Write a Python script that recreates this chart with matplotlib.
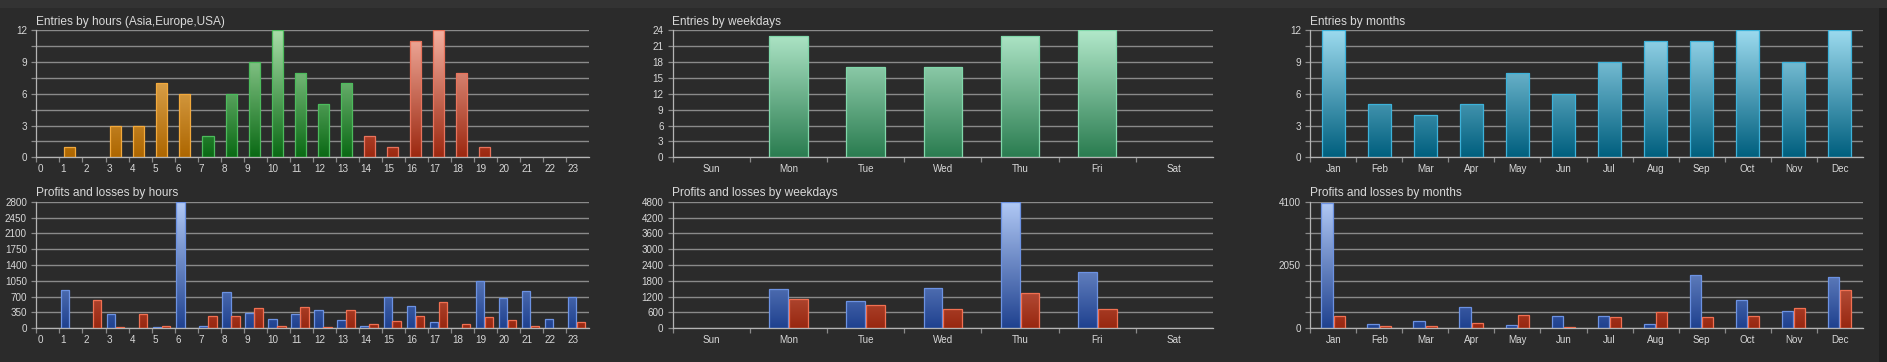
import matplotlib
matplotlib.use('Agg')
import matplotlib.pyplot as plt
import numpy as np
from matplotlib.patches import Rectangle
from matplotlib.colors import LinearSegmentedColormap
import matplotlib.transforms as mtrans

plt.rcParams['font.family'] = ['Liberation Sans', 'DejaVu Sans']

# ---------------- data ----------------
hours = [str(h) for h in range(24)]
hour_entries = [0, 1, 0, 3, 3, 7, 6, 2, 6, 9, 12, 8, 5, 7, 2, 1, 11, 12, 8, 1, 0, 0, 0, 0]
hour_session = ['asia'] * 7 + ['europe'] * 7 + ['usa'] * 10
hour_profits = [0, 840, 0, 309, 0, 22, 2800, 44, 796, 332, 199, 309, 398, 177, 52, 685, 486, 133, 0, 1046, 663, 825, 199, 685]
hour_losses = [0, 0, 626, 37, 309, 44, 0, 273, 265, 449, 52, 464, 22, 398, 88, 155, 280, 575, 103, 258, 177, 52, 0, 147]

weekdays = ['Sun', 'Mon', 'Tue', 'Wed', 'Thu', 'Fri', 'Sat']
weekday_entries = [0, 23, 17, 17, 23, 24, 0]
weekday_profits = [0, 1503, 1023, 1516, 4790, 2122, 0]
weekday_losses = [0, 1099, 871, 720, 1326, 720, 0]

months = ['Jan', 'Feb', 'Mar', 'Apr', 'May', 'Jun', 'Jul', 'Aug', 'Sep', 'Oct', 'Nov', 'Dec']
month_entries = [12, 5, 4, 5, 8, 6, 9, 11, 11, 12, 9, 12]
month_profits = [4070, 151, 227, 680, 108, 399, 388, 130, 1716, 906, 550, 1651]
month_losses = [399, 86, 76, 173, 421, 43, 367, 529, 378, 388, 669, 1241]

hour_entry_max = 12
hour_entry_ylabels = ['0', '', '3', '', '6', '', '9', '', '12']
hour_pl_max = 2800
hour_pl_ylabels = ['0', '350', '700', '1050', '1400', '1750', '2100', '2450', '2800']
weekday_entry_max = 24
weekday_entry_ylabels = ['0', '3', '6', '9', '12', '15', '18', '21', '24']
weekday_pl_max = 4800
weekday_pl_ylabels = ['0', '600', '1200', '1800', '2400', '3000', '3600', '4200', '4800']
month_entry_max = 12
month_entry_ylabels = ['0', '', '3', '', '6', '', '9', '', '12']
month_pl_max = 4100
month_pl_ylabels = ['0', '', '', '', '2050', '', '', '', '4100']

titles = ['Entries by hours (Asia,Europe,USA)', 'Entries by weekdays', 'Entries by months',
          'Profits and losses by hours', 'Profits and losses by weekdays', 'Profits and losses by months']

# ---------------- styles ----------------
BG = '#2b2b2b'
GRID = '#8a8a8a'
SPINE = '#b4b4b4'
TXT = '#d8d8d8'
TITLE = '#dadada'
TICKSIZE = 7.1

palette = {
    'asia':   ('#ad6600', '#f7c77a', '#f2a93c'),
    'europe': ('#0a6914', '#a8dea8', '#4cbb5c'),
    'usa':    ('#9c2810', '#f4b0a0', '#e8735c'),
    'mint':   ('#2a7c50', '#b2e8ca', '#80d8aa'),
    'cyan':   ('#005f7e', '#9cdaee', '#3cb2da'),
    'blue':   ('#1f418f', '#b2caf6', '#6c92e2'),
    'red':    ('#982710', '#f2a492', '#f07052'),
}

W, H = 1887, 362
fig = plt.figure(figsize=(W / 100, H / 100), dpi=100, facecolor=BG)
fig.patches.append(Rectangle((0, 1 - 7.5 / H), 1, 7.5 / H, transform=fig.transFigure,
                             facecolor='#333333', edgecolor='none', zorder=0))
fig.patches.append(Rectangle((1879 / W, 0), 1, 1 - 7.5 / H, transform=fig.transFigure,
                             facecolor='#202020', edgecolor='none', zorder=0))

cols = [(36.4, 589.2), (673.0, 1212.7), (1310.4, 1862.6)]
rows = [(30.3, 157.3), (201.7, 328.3)]


def make_ax(r, c):
    (l, rr), (t, b) = cols[c], rows[r]
    ax = fig.add_axes([l / W, 1 - b / H, (rr - l) / W, (b - t) / H])
    ax.set_facecolor('none')
    for s in ['top', 'right']:
        ax.spines[s].set_visible(False)
    for s in ['left', 'bottom']:
        ax.spines[s].set_color(SPINE)
        ax.spines[s].set_linewidth(0.9)
    ax.tick_params(axis='both', which='major', direction='out', length=3.6, width=0.9,
                   color=GRID, labelcolor=TXT, labelsize=TICKSIZE)
    ax.tick_params(axis='y', pad=3.2)
    ax.tick_params(axis='x', pad=1.4)
    ax.yaxis.grid(True, color=GRID, linewidth=1.0)
    ax.set_axisbelow(True)
    return ax


def grad_bar(ax, x0, width, value, ymax, key):
    if value <= 0:
        return
    lo, hi, edge = palette[key]
    cmap = LinearSegmentedColormap.from_list('g' + key, [lo, hi])
    rect = Rectangle((x0, 0), width, value, facecolor='none', edgecolor=edge,
                     linewidth=0.9, zorder=3)
    ax.add_patch(rect)
    grad = np.linspace(0, 1, 256).reshape(-1, 1)
    im = ax.imshow(grad, extent=(x0, x0 + width, 0, ymax), origin='lower', cmap=cmap,
                   aspect='auto', interpolation='bilinear', zorder=2)
    im.set_clip_path(rect)


def finish(ax, n, ymax, ylabels, title, centered, catlabels):
    ax.set_xlim(0, n)
    ax.set_ylim(0, ymax)
    ax.set_yticks(np.linspace(0, ymax, 9))
    ax.set_yticklabels(ylabels)
    ax.set_xticks(np.arange(n))
    if centered:
        ax.set_xticklabels([''] * n)
        ax.set_xticks(np.arange(n) + 0.5, minor=True)
        ax.set_xticklabels(catlabels, minor=True)
        ax.tick_params(axis='x', which='minor', length=0, labelcolor=TXT, labelsize=TICKSIZE, pad=5.0)
    else:
        ax.set_xticklabels(catlabels, ha='left')
        off = mtrans.ScaledTranslation(1.0 / 100, 0, fig.dpi_scale_trans)
        for lab in ax.get_xticklabels():
            lab.set_transform(lab.get_transform() + off)
    ax.text(0, 1, title, transform=ax.transAxes + mtrans.ScaledTranslation(-0.6 / 100, 5.5 / 100, fig.dpi_scale_trans),
            ha='left', va='baseline', color=TITLE, fontsize=8.6)


# ---- Entries by hours
ax = make_ax(0, 0)
for i, v in enumerate(hour_entries):
    grad_bar(ax, i + 0.45 - 0.24, 0.48, v, hour_entry_max, hour_session[i])
finish(ax, 24, hour_entry_max, hour_entry_ylabels, titles[0], False, hours)

# ---- Entries by weekdays
ax = make_ax(0, 1)
for i, v in enumerate(weekday_entries):
    grad_bar(ax, i + 0.25, 0.5, v, weekday_entry_max, 'mint')
finish(ax, 7, weekday_entry_max, weekday_entry_ylabels, titles[1], True, weekdays)

# ---- Entries by months
ax = make_ax(0, 2)
for i, v in enumerate(month_entries):
    grad_bar(ax, i + 0.25, 0.5, v, month_entry_max, 'cyan')
finish(ax, 12, month_entry_max, month_entry_ylabels, titles[2], True, months)

# ---- P&L by hours
ax = make_ax(1, 0)
for i, (p, l) in enumerate(zip(hour_profits, hour_losses)):
    grad_bar(ax, i + 0.07, 0.36, p, hour_pl_max, 'blue')
    grad_bar(ax, i + 0.46, 0.36, l, hour_pl_max, 'red')
finish(ax, 24, hour_pl_max, hour_pl_ylabels, titles[3], False, hours)

# ---- P&L by weekdays
ax = make_ax(1, 1)
for i, (p, l) in enumerate(zip(weekday_profits, weekday_losses)):
    grad_bar(ax, i + 0.25, 0.245, p, weekday_pl_max, 'blue')
    grad_bar(ax, i + 0.508, 0.245, l, weekday_pl_max, 'red')
finish(ax, 7, weekday_pl_max, weekday_pl_ylabels, titles[4], True, weekdays)

# ---- P&L by months
ax = make_ax(1, 2)
for i, (p, l) in enumerate(zip(month_profits, month_losses)):
    grad_bar(ax, i + 0.24, 0.245, p, month_pl_max, 'blue')
    grad_bar(ax, i + 0.51, 0.245, l, month_pl_max, 'red')
finish(ax, 12, month_pl_max, month_pl_ylabels, titles[5], True, months)

fig.savefig('out.png', dpi=100, facecolor=BG)
